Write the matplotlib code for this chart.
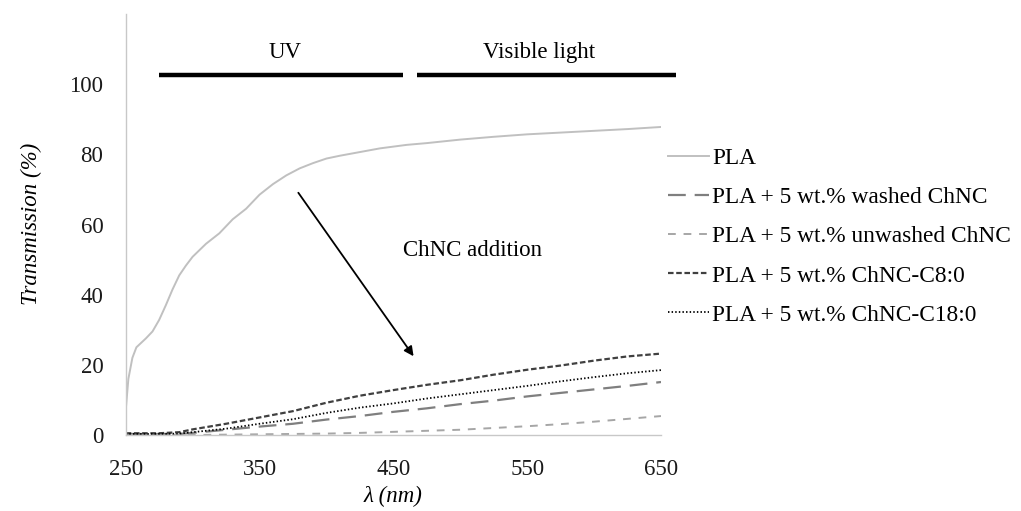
import matplotlib
matplotlib.use("Agg")
import matplotlib.pyplot as plt

plt.rcParams['font.family'] = ['Liberation Serif', 'DejaVu Serif']

# PLA (neat) spectrum
pla_wl = [250, 252, 255, 258, 265, 270, 275, 280, 285, 290, 295, 300, 310, 320, 330,
          340, 350, 360, 370, 380, 390, 400, 410, 420, 430, 440, 450, 460, 475, 500,
          525, 550, 575, 600, 625, 650]
pla_T = [7, 16, 22, 25, 27.5, 29.5, 32.8, 37, 41.5, 45.5, 48.3, 50.8, 54.5, 57.5, 61.5,
         64.5, 68.5, 71.5, 74, 76, 77.5, 78.8, 79.6, 80.3, 81, 81.7, 82.2, 82.7, 83.2, 84.2,
         85, 85.7, 86.2, 86.7, 87.2, 87.8]

# composite spectra
wl = [250, 275, 290, 300, 325, 350, 375, 400, 425, 450, 475, 500, 525, 550, 575, 600, 625, 650]
washed_T = [0.3, 0.3, 0.3, 0.6, 1.5, 2.4, 3.2, 4.4, 5.4, 6.6, 7.6, 8.8, 9.8, 11.0, 12.0, 13.0, 14.0, 15.1]
unwashed_T = [0.0, 0.0, 0.0, 0.0, 0.1, 0.2, 0.3, 0.4, 0.6, 0.9, 1.2, 1.5, 2.0, 2.5, 3.1, 3.8, 4.6, 5.4]
c8_T = [0.5, 0.5, 0.8, 1.6, 3.2, 5.0, 6.8, 9.2, 11.2, 12.8, 14.3, 15.6, 17.2, 18.6, 19.8, 21.2, 22.4, 23.2]
c18_T = [0.3, 0.3, 0.4, 0.8, 1.8, 3.2, 4.5, 6.3, 7.8, 9.0, 10.4, 11.6, 12.8, 14.0, 15.3, 16.5, 17.6, 18.5]

labels = ["PLA", "PLA + 5 wt.% washed ChNC", "PLA + 5 wt.% unwashed ChNC",
          "PLA + 5 wt.% ChNC-C8:0", "PLA + 5 wt.% ChNC-C18:0"]

xticks = [250, 350, 450, 550, 650]
yticks = [0, 20, 40, 60, 80, 100]

FS = 16.5
W, H = 1021, 511
fig = plt.figure(figsize=(W / 100, H / 100), dpi=100)
ax = fig.add_axes([125.7 / W, 1 - 435 / H, (661 - 125.7) / W, (435 - 14) / H])

ax.plot(pla_wl, pla_T, color='#c0c0c0', lw=1.4, label=labels[0])
ax.plot(wl, washed_T, color='#7f7f7f', lw=1.6, dashes=(8, 4), label=labels[1])
ax.plot(wl, unwashed_T, color='#a6a6a6', lw=1.4, dashes=(4, 4), label=labels[2])
ax.plot(wl, c8_T, color='#404040', lw=1.6, dashes=(2.5, 1.2), label=labels[3])
ax.plot(wl, c18_T, color='#000000', lw=1.3, dashes=(0.8, 1.2), label=labels[4])

ax.set_xlim(250, 650)
ax.set_ylim(0, 120)
ax.set_xticks(xticks)
ax.set_yticks(yticks)
ax.tick_params(axis='y', length=0, labelsize=FS, colors='#1a1a1a', pad=16)
ax.tick_params(axis='x', length=0, labelsize=FS, colors='#1a1a1a', pad=17)
for s in ['top', 'right']:
    ax.spines[s].set_visible(False)
for s in ['left', 'bottom']:
    ax.spines[s].set_color('#c8c8c8')
    ax.spines[s].set_linewidth(1.0)

ax.set_ylabel("Transmission (%)", fontstyle='italic', fontsize=FS, va='center')
ax.yaxis.set_label_coords(31 / W, 1 - 224 / H, transform=fig.transFigure)
ax.set_xlabel("λ (nm)", fontstyle='italic', fontsize=FS, va='center')
ax.xaxis.set_label_coords(393 / W, 1 - 496 / H, transform=fig.transFigure)

# UV / Visible region bars
ax.plot([274.9, 457.3], [102.5, 102.5], color='black', lw=3.2, solid_capstyle='butt', clip_on=False)
ax.plot([467.8, 661.4], [102.5, 102.5], color='black', lw=3.2, solid_capstyle='butt', clip_on=False)
ax.text(369, 109, "UV", ha='center', va='center', fontsize=FS)
ax.text(559, 109, "Visible light", ha='center', va='center', fontsize=FS)

# arrow
ax.annotate("", xy=(466.3, 21.8), xytext=(377.8, 69.7),
            arrowprops=dict(arrowstyle='-|>', color='black', lw=1.3, mutation_scale=14))
ax.text(457, 52.5, "ChNC addition", ha='left', va='center', fontsize=FS)

leg = fig.legend(loc='upper left', bbox_to_anchor=(668 / W, 1 - 148 / H), frameon=False,
                 fontsize=16.8, handlelength=1.75, handletextpad=0.15, labelspacing=0.76,
                 borderpad=0, borderaxespad=0)

fig.savefig("out.png", dpi=100)
